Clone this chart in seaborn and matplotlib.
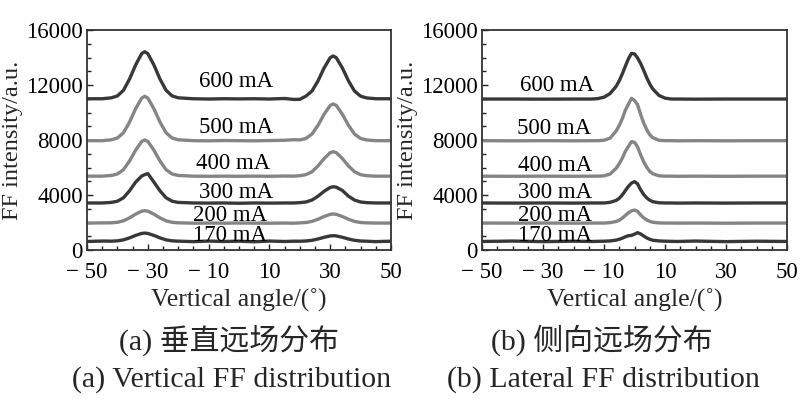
import numpy as np
import pandas as pd
import matplotlib
matplotlib.use("Agg")
import matplotlib.pyplot as plt
from matplotlib.ticker import MultipleLocator, FixedLocator, FixedFormatter
import seaborn as sns

# ---------------- data ----------------
currents = ["170 mA", "200 mA", "300 mA", "400 mA", "500 mA", "600 mA"]

# Vertical far field (panel a)
v_angle = [-50, -45, -42, -40, -38, -36, -34, -32, -31, -30, -28, -26, -24, -22, -20,
           -15, -10, -5, 0, 5, 10, 15, 18,
           20, 22, 24, 26, 28, 30, 31, 32, 34, 36, 38, 40, 42, 45, 50]
v_170 = [620, 650, 642, 666, 738, 882, 1062, 1206, 1230, 1206, 1062, 882, 738, 666, 642,
         610, 650, 620, 640, 600, 650, 620, 640,
         638, 655, 704, 802, 925, 1024, 1040, 1024, 925, 802, 704, 655, 638, 610, 640]
v_200 = [1960, 1970, 1978, 2014, 2122, 2338, 2608, 2824, 2860, 2824, 2608, 2338, 2122, 2014, 1978,
         1950, 1960, 1950, 1960, 1955, 1950, 1960, 1950,
         1973, 2000, 2079, 2237, 2435, 2594, 2620, 2594, 2435, 2237, 2079, 2000, 1973, 1960, 1960]
v_300 = [3420, 3420, 3462, 3547, 3800, 4306, 4939, 5380, 5480, 5560, 4939, 4306, 3800, 3547, 3462,
         3420, 3410, 3420, 3400, 3420, 3410, 3420, 3420,
         3444, 3491, 3632, 3916, 4270, 4550, 4600, 4570, 4330, 3916, 3632, 3491, 3444, 3420, 3420]
v_400 = [5370, 5370, 5423, 5528, 5843, 6475, 7264, 7895, 8000, 7895, 7264, 6475, 5843, 5528, 5423,
         5370, 5360, 5370, 5360, 5370, 5360, 5380, 5370,
         5406, 5477, 5690, 6118, 6652, 7079, 7150, 7079, 6652, 6118, 5690, 5477, 5406, 5370, 5370]
v_500 = [7950, 7950, 8015, 8144, 8531, 9307, 10276, 11051, 11180, 11051, 10276, 9307, 8531, 8144, 8015,
         7950, 7940, 7960, 7950, 7940, 7960, 7980, 8020,
         8003, 8110, 8431, 9071, 9872, 10513, 10620, 10513, 9872, 9071, 8431, 8110, 8003, 7950, 7950]
v_600 = [11000, 11000, 11068, 11205, 11616, 12436, 13462, 14283, 14420, 14283, 13462, 12436, 11616, 11205, 11068,
         11000, 10980, 11000, 10990, 11000, 10980, 11020, 10950,
         10960, 11187, 11560, 12306, 13239, 13986, 14110, 13986, 13239, 12306, 11560, 11187, 11060, 11000, 11000]

# Lateral far field (panel b)
l_angle = [-50, -40, -30, -20, -14, -12, -10, -8, -6, -5, -4, -3, -2, -1, 0,
           1, 2, 3, 4, 5, 6, 8, 10, 12, 14, 20, 30, 40, 50]
l_170 = [620, 650, 610, 640, 620, 630, 640, 660, 720, 780, 860, 960, 1040, 1060, 1150,
         1260, 1170, 1020, 880, 780, 710, 660, 640, 630, 620, 650, 610, 640, 620]
l_200 = [1960, 1955, 1960, 1950, 1960, 1960, 1960, 1989, 2074, 2169, 2321, 2511, 2701, 2844, 2910,
         2815, 2549, 2340, 2188, 2084, 2017, 1970, 1960, 1960, 1955, 1960, 1950, 1960, 1960]
l_300 = [3420, 3410, 3420, 3410, 3420, 3420, 3420, 3467, 3606, 3761, 4009, 4319, 4629, 4862, 4970,
         4815, 4381, 4040, 3792, 3622, 3513, 3436, 3420, 3420, 3410, 3420, 3410, 3420, 3420]
l_400 = [5370, 5360, 5370, 5360, 5370, 5370, 5395, 5521, 5947, 6274, 6675, 7177, 7529, 7880, 7830,
         7504, 6926, 6424, 6023, 5721, 5546, 5395, 5370, 5370, 5360, 5370, 5360, 5370, 5370]
l_500 = [7950, 7940, 7950, 7940, 7950, 7950, 7981, 8135, 8658, 9059, 9552, 10168, 10599, 11030, 10876,
         10568, 9860, 9244, 8751, 8381, 8166, 7981, 7950, 7950, 7940, 7950, 7940, 7950, 7950]
l_600 = [10980, 10980, 10970, 10980, 10980, 11013, 11113, 11378, 11910, 12308, 12806, 13370, 13902, 14300, 14260,
         13968, 13570, 13072, 12540, 12076, 11710, 11246, 11046, 10980, 10980, 10970, 10980, 10980, 10980]

# label positions (angle, intensity) for each current
v_label_x = [-3, -3, -1, -2, -1, -1]
v_label_y = [1090, 2545, 4170, 6300, 8900, 12290]
l_label_x = [-26, -26, -26, -26, -26.5, -25.5]
l_label_y = [1090, 2545, 4170, 6180, 8850, 11930]

x_ticks = [-50, -30, -10, 10, 30, 50]
x_tick_labels = ["\u2212 50", "\u2212 30", "\u2212 10", "10", "30", "50"]
y_ticks = [0, 4000, 8000, 12000, 16000]
y_tick_labels = ["0", "4000", "8000", "12000", "16000"]

# ---------------- style ----------------
sns.set_theme(style="white")
plt.rcParams["font.family"] = ["Liberation Serif", "Noto Sans CJK SC", "DejaVu Sans"]

dark = "#383838"
light = "#858585"
palette = {"170 mA": dark, "200 mA": light, "300 mA": dark,
           "400 mA": light, "500 mA": light, "600 mA": dark}

def make_df(angle, series):
    frames = []
    for name, vals in zip(currents, series):
        frames.append(pd.DataFrame({"angle": angle, "intensity": vals, "current": name}))
    return pd.concat(frames, ignore_index=True)

df_v = make_df(v_angle, [v_170, v_200, v_300, v_400, v_500, v_600])
df_l = make_df(l_angle, [l_170, l_200, l_300, l_400, l_500, l_600])

fig = plt.figure(figsize=(8.0, 3.99), dpi=100)
ax1 = fig.add_axes([87 / 800, 1 - 250 / 399, 304 / 800, 220 / 399])
ax2 = fig.add_axes([482 / 800, 1 - 250 / 399, 305 / 800, 220 / 399])

tick_fs = 16.5
for ax, df, lx, ly in [(ax1, df_v, v_label_x, v_label_y), (ax2, df_l, l_label_x, l_label_y)]:
    sns.lineplot(data=df, x="angle", y="intensity", hue="current", palette=palette,
                 estimator=None, sort=False, legend=False, linewidth=2.4, ax=ax)
    ax.set_xlim(-50, 50)
    ax.set_ylim(0, 16000)
    ax.xaxis.set_major_locator(FixedLocator(x_ticks))
    ax.xaxis.set_major_formatter(FixedFormatter(x_tick_labels))
    ax.xaxis.set_minor_locator(MultipleLocator(5))
    ax.yaxis.set_major_locator(FixedLocator(y_ticks))
    ax.yaxis.set_major_formatter(FixedFormatter(y_tick_labels))
    ax.yaxis.set_minor_locator(MultipleLocator(1000))
    ax.tick_params(axis="both", which="both", direction="in", bottom=True, left=True,
                   top=False, right=False, colors="#222222", labelcolor="black")
    ax.tick_params(axis="both", which="major", length=4, width=1.0, labelsize=tick_fs)
    ax.tick_params(axis="x", which="major", pad=9)
    ax.tick_params(axis="y", which="major", pad=3)
    ax.tick_params(axis="both", which="minor", length=3, width=1.0)
    for s in ax.spines.values():
        s.set_color("#333333")
        s.set_linewidth(1.3)
    ax.set_xlabel("Vertical angle/(\u02da)", fontsize=18.5, labelpad=4)
    ax.set_ylabel("FF intensity/a.u.", fontsize=17.5, labelpad=2)
    for name, x, y in zip(currents, lx, ly):
        ax.text(x, y, name, fontsize=16.5, ha="center", va="center", color="black")

fig.text(229 / 800, 1 - 340 / 399, "(a) 垂直远场分布", fontsize=21.5, ha="center", va="center")
fig.text(232 / 800, 1 - 380 / 399, "(a) Vertical FF distribution", fontsize=21.5, ha="center", va="center")
fig.text(602 / 800, 1 - 340 / 399, "(b) 侧向远场分布", fontsize=21.5, ha="center", va="center")
fig.text(603 / 800, 1 - 380 / 399, "(b) Lateral FF distribution", fontsize=21.5, ha="center", va="center")

fig.savefig("out.png", dpi=100, facecolor="white")
